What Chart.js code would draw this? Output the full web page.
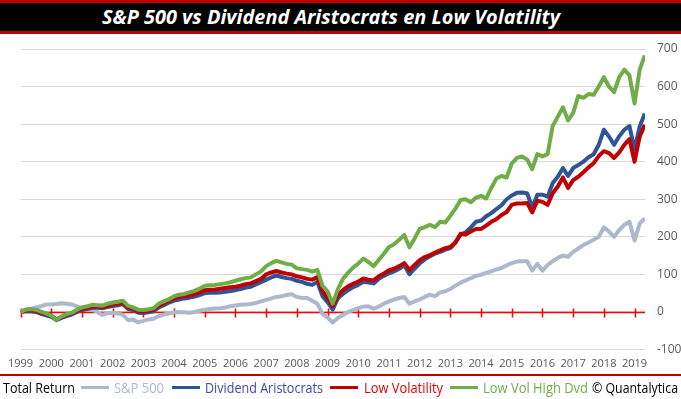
<!DOCTYPE html>
<html>
<head>
<meta charset="utf-8">
<script src="https://cdn.jsdelivr.net/npm/chart.js@4/dist/chart.umd.min.js"></script>
<style>
  html, body { margin: 0; padding: 0; background: #fff; }
  #wrap { position: relative; width: 681px; height: 399px; overflow: hidden; font-family: "Open Sans", sans-serif; }
  #chart { position: absolute; left: 0; top: 0; }
  #titlebar { position: absolute; left: 0; top: 0; width: 681px; height: 28px; background: #000;
    border-top: 3px solid #c00000; border-bottom: 3px solid #c00000; }
  #title { position: absolute; left: 102px; top: 1px; color: #fff; font: italic bold 19px "Open Sans", sans-serif;
    white-space: nowrap; transform-origin: 0 50%; }
  #sep { position: absolute; left: 0; top: 374px; width: 681px; height: 2px; background: #c00000; }
  .lg { position: absolute; top: 378px; font-size: 14px; line-height: 19px; white-space: nowrap; transform-origin: 0 50%; }
  .sw { position: absolute; top: 386px; height: 3px; }
</style>
</head>
<body>
<div id="wrap">
  <canvas id="chart" width="681" height="399"></canvas>
  <div id="titlebar"><span id="title" data-w="458">S&amp;P 500 vs Dividend Aristocrats en Low Volatility</span></div>
  <div id="sep"></div>
  <span class="lg" data-w="72" style="left:3px;color:#000">Total Return</span>
  <div class="sw" style="left:81px;width:28px;background:#adb9ca"></div>
  <span class="lg" data-w="50" style="left:114px;color:#adb9ca">S&amp;P 500</span>
  <div class="sw" style="left:172px;width:28px;background:#2f5597"></div>
  <span class="lg" data-w="118" style="left:205px;color:#4346a6">Dividend Aristocrats</span>
  <div class="sw" style="left:330px;width:28px;background:#c00000"></div>
  <span class="lg" data-w="79" style="left:364px;color:#e00000">Low Volatility</span>
  <div class="sw" style="left:450px;width:28px;background:#70ad47"></div>
  <span class="lg" data-w="105" style="left:483px;color:#70ad47">Low Vol High Dvd</span>
  <span class="lg" data-w="86" style="left:592px;color:#000">© Quantalytica</span>
</div>
<script>
"use strict";

// total return in %, one value every two months from Jan 1999 to May 2019
var lowVolHighDvd = [
  0, 6, 8, 6, 1, -4,
  -10, -21, -12, -6, -2, 6,
  12, 15, 19, 18, 17, 22,
  25, 27, 30, 16, 12, 6,
  5, 7, 10, 22, 28, 34,
  42, 46, 48, 52, 56, 62,
  70, 71, 72, 74, 76, 79,
  83, 87, 90, 92, 100, 108,
  122, 130, 136, 132, 128, 126,
  116, 114, 112, 107, 112, 70,
  55, 22, 60, 88, 104, 118,
  129, 142, 133, 122, 138, 155,
  173, 180, 192, 205, 172, 195,
  221, 226, 232, 226, 240, 238,
  256, 275, 298, 300, 292, 304,
  309, 302, 330, 355, 362, 358,
  395, 410, 414, 406, 380, 420,
  414, 420, 495, 520, 545, 510,
  530, 575, 570, 580, 578, 600,
  625, 600, 585, 625, 645, 630,
  555, 645, 683
];
var lowVolatility = [
  0, 4, 5, 3, -2, -6,
  -10, -20, -13, -8, -4, 3,
  8, 11, 14, 14, 13, 17,
  20, 22, 25, 12, 9, 2,
  1, 3, 6, 17, 23, 30,
  36, 40, 42, 44, 47, 52,
  58, 59, 60, 62, 64, 66,
  67, 70, 74, 76, 82, 88,
  100, 105, 109, 105, 102, 100,
  95, 92, 88, 86, 93, 55,
  38, 16, 45, 58, 68, 75,
  81, 89, 86, 84, 95, 102,
  111, 115, 122, 130, 112, 125,
  138, 146, 151, 158, 164, 170,
  173, 185, 208, 206, 214, 221,
  221, 230, 240, 247, 258, 266,
  285, 289, 289, 290, 265, 296,
  293, 285, 316, 334, 358, 330,
  351, 360, 372, 385, 396, 415,
  428, 423, 410, 425, 445, 460,
  400, 467, 498
];
var dividendAristocrats = [
  0, 2, 2, 0, -5, -9,
  -13, -22, -16, -11, -7, 0,
  5, 8, 11, 11, 10, 13,
  16, 18, 21, 8, 5, -2,
  -3, -1, 2, 12, 18, 25,
  30, 33, 36, 38, 41, 45,
  50, 51, 51, 52, 54, 56,
  58, 61, 65, 67, 73, 79,
  86, 92, 97, 93, 90, 88,
  83, 80, 75, 72, 80, 42,
  26, 6, 36, 48, 58, 66,
  72, 80, 78, 76, 88, 96,
  103, 108, 115, 124, 100, 115,
  129, 140, 148, 155, 160, 166,
  170, 185, 206, 212, 225, 240,
  243, 255, 263, 274, 284, 300,
  310, 317, 318, 316, 278, 312,
  312, 307, 343, 360, 383, 362,
  383, 391, 400, 412, 420, 445,
  485, 467, 445, 468, 485, 495,
  432, 494, 528
];
var sp500 = [
  0, 6, 8, 12, 15, 20,
  20, 21, 23, 22, 20, 15,
  10, 8, 6, 0, -8, -3,
  -3, -4, -8, -22, -20, -28,
  -24, -20, -18, -11, -7, -4,
  -1, 0, -1, -2, 0, 3,
  6, 8, 9, 10, 12, 15,
  17, 19, 20, 21, 24, 28,
  32, 36, 40, 42, 45, 47,
  40, 37, 37, 30, 22, -5,
  -15, -28, -16, -8, 0, 5,
  10, 14, 15, 9, 14, 22,
  28, 33, 37, 40, 22, 28,
  33, 40, 46, 42, 52, 55,
  61, 70, 78, 84, 90, 96,
  99, 104, 108, 113, 117, 124,
  130, 134, 135, 135, 110, 128,
  110, 125, 135, 144, 150, 147,
  160, 169, 178, 185, 192, 200,
  225, 214, 200, 218, 232, 240,
  190, 235, 249
];
var firstYear = 1999;
var stepsPerYear = 6;
var yTicks = { min: -100, max: 700, step: 100 };

var points = function(vals) {
  return vals.map(function(v, i) { return { x: firstYear + i / stepsPerYear, y: v }; });
};

// red zero axis with a tick mark at every year
var zeroAxis = {
  id: 'zeroAxis',
  beforeDatasetsDraw: function(chart) {
    var ctx = chart.ctx, a = chart.chartArea, x = chart.scales.x, y = chart.scales.y;
    var y0 = Math.round(y.getPixelForValue(0)) + 0.5;
    ctx.save();
    ctx.strokeStyle = '#ff0000';
    ctx.lineWidth = 1.5;
    ctx.beginPath();
    ctx.moveTo(a.left, y0);
    ctx.lineTo(a.right, y0);
    x.ticks.forEach(function(t) {
      var px = Math.round(x.getPixelForValue(t.value)) + 0.5;
      ctx.moveTo(px, y0 - 4);
      ctx.lineTo(px, y0 + 5);
    });
    ctx.stroke();
    ctx.restore();
  }
};

var line = function(data, color) {
  return { data: points(data), borderColor: color, borderWidth: 4, borderJoinStyle: 'round',
    pointRadius: 0, tension: 0, fill: false };
};

new Chart(document.getElementById('chart').getContext('2d'), {
  type: 'line',
  data: {
    // first dataset is painted on top
    datasets: [
      line(lowVolHighDvd, '#70ad47'),
      line(lowVolatility, '#c00000'),
      line(dividendAristocrats, '#2f5597'),
      line(sp500, '#adb9ca')
    ]
  },
  options: {
    responsive: false,
    animation: false,
    devicePixelRatio: 1,
    layout: { padding: { top: 49, left: 12, right: 0, bottom: 29.5 } },
    plugins: { legend: { display: false }, tooltip: { enabled: false } },
    scales: {
      x: {
        type: 'linear',
        min: firstYear,
        max: 2019.34,
        grid: { display: false, drawTicks: false },
        border: { display: false },
        afterFit: function(s) { s.height = 20; },
        ticks: {
          stepSize: 1,
          includeBounds: false,
          autoSkip: false,
          maxRotation: 0,
          padding: 8,
          color: '#595959',
          font: { family: 'Open Sans', size: 11 },
          callback: function(v) { return String(v); }
        }
      },
      y: {
        position: 'right',
        min: yTicks.min,
        max: yTicks.max,
        grid: { color: '#d9d9d9', drawTicks: false },
        border: { display: false },
        afterFit: function(s) { s.width = 36; },
        ticks: {
          stepSize: yTicks.step,
          padding: 12,
          color: '#595959',
          font: { family: 'Open Sans', size: 12 }
        }
      }
    }
  },
  plugins: [zeroAxis]
});

// squeeze the wide substitute font to the widths of the original texts
var fit = function(el) {
  el.style.display = 'inline-block';
  var w = el.getBoundingClientRect().width;
  el.style.transform = 'scaleX(' + (parseFloat(el.getAttribute('data-w')) / w) + ')';
};
document.querySelectorAll('[data-w]').forEach(fit);
</script>
</body>
</html>
